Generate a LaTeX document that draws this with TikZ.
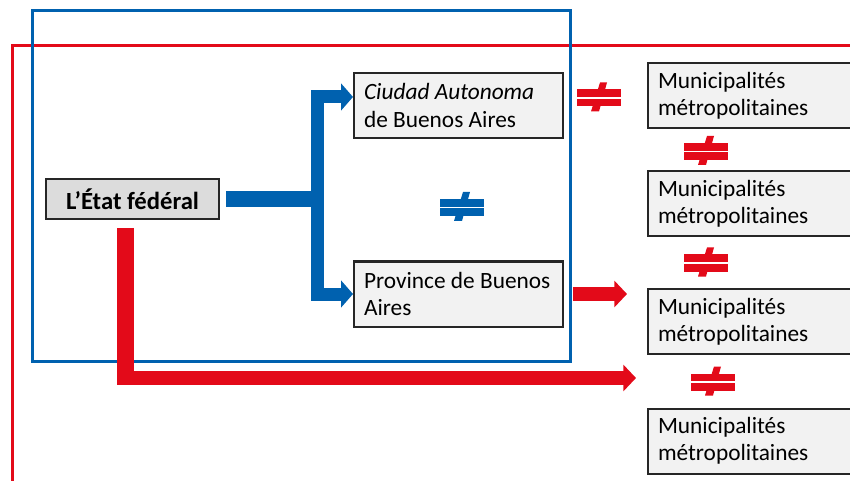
\documentclass[tikz,border=0pt]{standalone}
\usepackage{fontspec}
\setmainfont{Carlito}
\usetikzlibrary{arrows.meta,calc,positioning}

\definecolor{fedblue}{RGB}{0,97,175}
\definecolor{fedred}{RGB}{227,10,25}
\definecolor{boxgray}{RGB}{242,242,242}
\definecolor{etatgray}{RGB}{220,220,220}
\definecolor{edgegray}{RGB}{38,38,38}

% heavy "not equal" mark: centre x, centre y, colour
\newcommand{\neqmark}[3]{%
  \begin{scope}[shift={(#1,#2)}]
    \fill[#3] (1,-15.5) -- (8,-15.5) -- (0,13.5) -- (-8,13.5) -- cycle;
    \fill[#3] (-22,-8.5) rectangle (22,8.5);
    \draw[white, line width=0.9pt] (-22,0) -- (22,0);
  \end{scope}}

\begin{document}
\begin{tikzpicture}[
  x=0.75pt, y=-0.75pt,
  box/.style={
    draw=edgegray,
    line width=1.5pt,
    fill=boxgray,
    inner xsep=7.5pt,
    inner ysep=0pt,
    minimum height=48.75pt,
    align=flush left,
    font=\fontsize{17.5}{20.5}\selectfont
  },
  midbox/.style={
    box,
    text width=141.75pt
  },
  munibox/.style={
    box,
    text width=159pt
  },
  etatbox/.style={
    box,
    fill=etatgray,
    align=flush center,
    minimum width=129.75pt,
    minimum height=30pt,
    font=\fontsize{18.5}{21}\selectfont\bfseries
  },
  frame/.style={
    line width=2.25pt
  },
  bluebar/.style={
    draw=fedblue,
    line width=12pt
  },
  bluearrow/.style={
    draw=fedblue,
    line width=9.75pt,
    line join=miter,
    -{Triangle[length=9pt,width=20pt]}
  },
  redbar/.style={
    draw=fedred,
    line width=12.75pt
  },
  redarrow/.style={
    draw=fedred,
    line width=10pt,
    -{Triangle[length=9.5pt,width=19.5pt]}
  }
]

\clip (0,0) rectangle (850,481);

% Frames
\draw[frame, fedred] (12,490) -- (12,46) -- (860,46);
\draw[frame, fedblue] (32,11) rectangle (570,361);

% Boxes
\node[etatbox] (etat) at (132.5,199) {L’État fédéral};

\node[midbox] (ciudad) at (458.5,105.5)
  {\textit{Ciudad Autonoma}\\de Buenos Aires};
\node[midbox] (province) at (458.5,294)
  {Province de Buenos\\Aires};

\node[munibox] (muni1) at (764,95.5)
  {Municipalités\\métropolitaines};
\node[munibox] (muni2) at (764,203.5)
  {Municipalités\\métropolitaines};
\node[munibox] (muni3) at (764,321.5)
  {Municipalités\\métropolitaines};
\node[munibox] (muni4) at (764,441)
  {Municipalités\\métropolitaines};

% Federal state -> city and province
\coordinate (fork) at (317.5,199);
\draw[bluebar] ([xshift=4.5pt]etat.east) -- (fork);
\draw[bluearrow] (fork) |- ([yshift=6.4pt]ciudad.west);
\draw[bluearrow] (fork) |- (province.west);

% Federal state -> municipalities
\coordinate (redelbow) at (117,378);
\coordinate (redtip) at (636,378);
\draw[redbar] ([xshift=-5.25pt,yshift=-6pt]etat.south) -- ++(0,157);
\draw[redarrow] (redelbow) -- (redtip);

% Province -> municipalities
\draw[redarrow, line width=10.5pt]
  ([xshift=7pt]province.east) -- ($(province.east -| muni3.west)+(-20,0)$);

% Not-equal marks
\neqmark{462}{207.5}{fedblue}
\neqmark{599}{98}{fedred}
\neqmark{706}{151.5}{fedred}
\neqmark{706}{263}{fedred}
\neqmark{713}{382}{fedred}

\end{tikzpicture}
\end{document}
